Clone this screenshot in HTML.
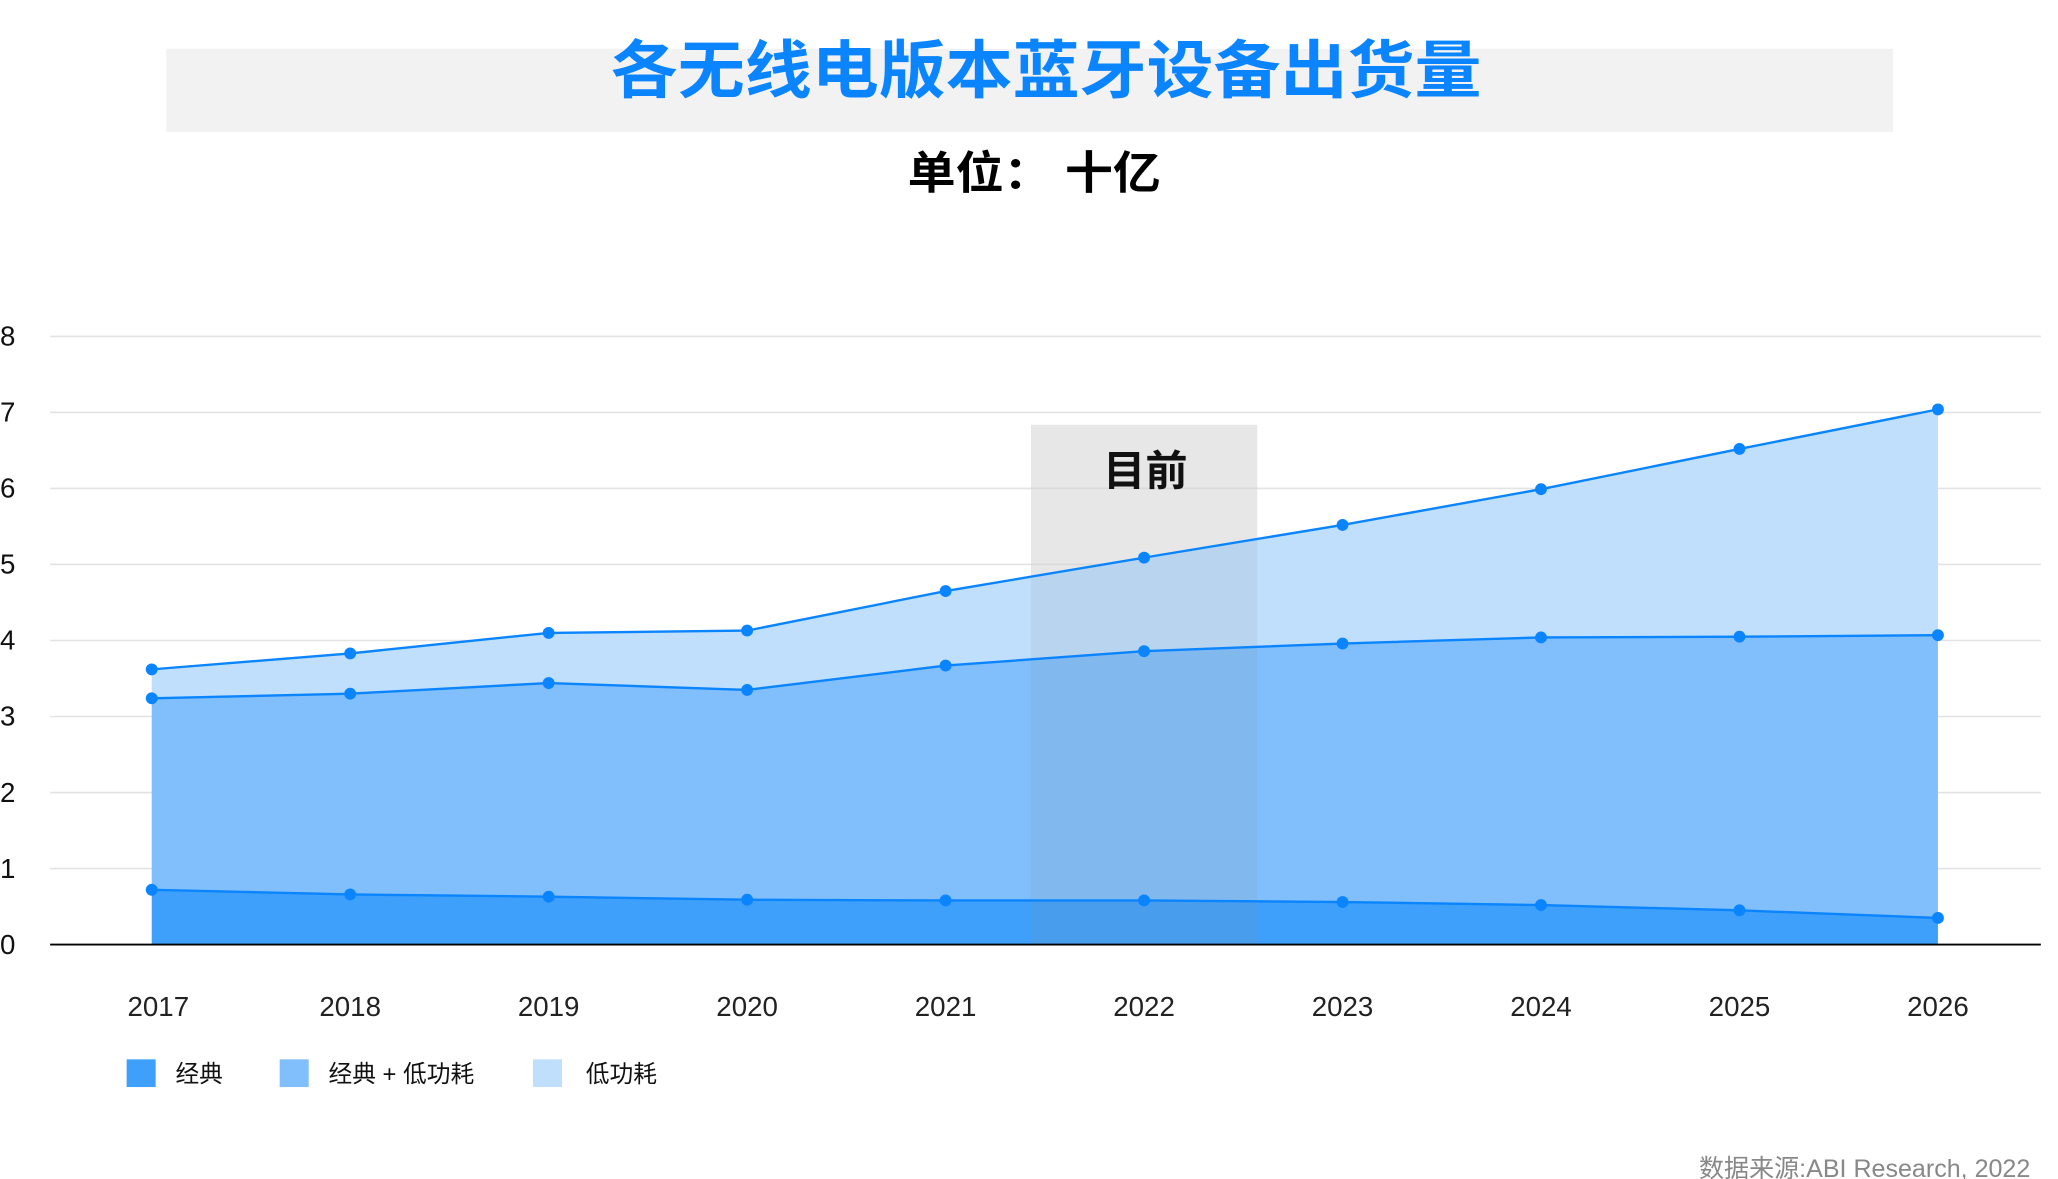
<!DOCTYPE html>
<html><head><meta charset="utf-8"><style>
html,body{margin:0;padding:0;background:#fff;}
svg{display:block;}
text{font-family:"Liberation Sans","Noto Sans CJK SC",sans-serif;}
</style></head><body>
<svg id="chart" width="2058" height="1179" viewBox="0 0 1560 893.7" preserveAspectRatio="none" xmlns="http://www.w3.org/2000/svg">
<rect x="126" y="37" width="1309" height="63" fill="#f2f2f2"/>
<text x="793" y="70" text-anchor="middle" font-size="48" font-weight="bold" fill="#0a84ff" textLength="660" lengthAdjust="spacingAndGlyphs">各无线电版本蓝牙设备出货量</text>
<text x="784" y="143" text-anchor="middle" font-size="34" font-weight="bold" fill="#000" textLength="192" lengthAdjust="spacingAndGlyphs">单位： 十亿</text>
<g id="grid"></g>
<rect id="nowband" fill="#e6e6e6" fill-opacity="0.45"/>
<g id="areas"></g>
<line x1="38" x2="1547" y1="716" y2="716" stroke="#000" stroke-width="1.5"/>
<text id="nowlabel" y="368" text-anchor="middle" font-size="32" font-weight="bold" fill="#111">目前</text>
<g id="xlabels"></g>
<g>
<g><rect x="96" y="803" width="22" height="21" fill="#3fa0fb"/><text x="133" y="820" font-size="18" fill="#111">经典</text></g>
<g><rect x="212" y="803" width="22" height="21" fill="#80bffb"/><text x="249" y="820" font-size="18" fill="#111">经典 + 低功耗</text></g>
<g><rect x="404" y="803" width="22" height="21" fill="#bfdffd"/><text x="444" y="820" font-size="18" fill="#111">低功耗</text></g>
</g>
<text x="1539" y="892" text-anchor="end" font-size="19" fill="#888">数据来源:ABI Research, 2022</text>
</svg>
<script>
const years = ["2017","2018","2019","2020","2021","2022","2023","2024","2025","2026"];
const classic = [0.72,0.66,0.63,0.59,0.58,0.58,0.56,0.52,0.45,0.35];
const classicPlusDual = [3.24,3.30,3.44,3.35,3.67,3.86,3.96,4.04,4.05,4.07];
const total = [3.62,3.83,4.10,4.13,4.65,5.09,5.52,5.99,6.52,7.04];
const yTicks = [0,1,2,3,4,5,6,7,8];
const currentYear = "2022";

const NS="http://www.w3.org/2000/svg";
const x0=115, x1=1469, yBase=716, yTop=255, yMax=8;
const xs=i=>x0+(x1-x0)*i/(years.length-1);
const ys=v=>yBase-(yBase-yTop)*v/yMax;
function mk(tag,attrs,parent){const e=document.createElementNS(NS,tag);for(const k in attrs)e.setAttribute(k,attrs[k]);parent.appendChild(e);return e;}

const grid=document.getElementById('grid');
yTicks.forEach(t=>{
  if(t>0){const l=mk('line',{x1:38,x2:1547,y1:ys(t),y2:ys(t),stroke:'#e3e3e3','stroke-width':1.2},grid);
  
  }
  const tx=mk('text',{x:0,y:ys(t)+7,'font-size':21,fill:'#111'},grid);
  tx.textContent=t;
  
  
});

const ci=years.indexOf(currentYear);
const step=(x1-x0)/(years.length-1);
const band=document.getElementById('nowband');
band.setAttribute('x',xs(ci)-step*0.57);band.setAttribute('width',step*1.14);
band.setAttribute('y',322);band.setAttribute('height',yBase-322);
document.getElementById('nowlabel').setAttribute('x',xs(ci)+1);

const areas=document.getElementById('areas');
function area(upper,lower,fill,name){
  let d='M'+xs(0)+','+ys(upper[0]);
  upper.forEach((v,i)=>{d+=' L'+xs(i)+','+ys(v);});
  for(let i=upper.length-1;i>=0;i--)d+=' L'+xs(i)+','+ys(lower?lower[i]:0);
  const p=mk('path',{d:d+'Z',fill:fill},areas);
  
  
}
function line(vals,name){
  const pts=vals.map((v,i)=>xs(i)+','+ys(v)).join(' ');
  const pl=mk('polyline',{points:pts,fill:'none',stroke:'#0a84ff','stroke-width':1.8},areas);
  
  
  vals.forEach((v,i)=>{const c=mk('circle',{cx:xs(i),cy:ys(v),r:4.5,fill:'#0a84ff'},areas);
    
    });
}
area(total,classicPlusDual,'#bfdffd','le');
area(classicPlusDual,classic,'#80bffb','dual');
area(classic,null,'#3fa0fb','classic');
const b2=band.cloneNode();b2.setAttribute('fill','#8a8a8a');b2.setAttribute('fill-opacity','0.12');
areas.appendChild(b2);
line(classic,'classic');line(classicPlusDual,'dual');line(total,'total');

const xl=document.getElementById('xlabels');
years.forEach((y,i)=>{const t=mk('text',{x:xs(i)+(i===0?5:0),y:770,'text-anchor':'middle','font-size':21,fill:'#222'},xl);
  t.textContent=y;
  
  });
</script>
</body></html>
